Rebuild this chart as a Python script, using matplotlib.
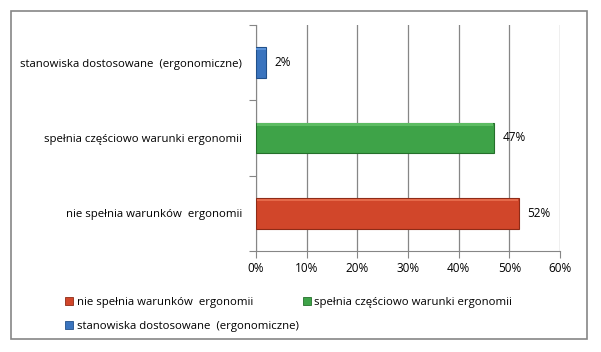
import matplotlib.pyplot as plt
from matplotlib.patches import Rectangle
from matplotlib.ticker import MultipleLocator, FuncFormatter

categories = ["nie spełnia warunków  ergonomii",
              "spełnia częściowo warunki ergonomii",
              "stanowiska dostosowane  (ergonomiczne)"]
values = [52, 47, 2]
colors = ["#D1462A", "#3EA348", "#3A74BE"]
edges = ["#8E2B17", "#25702B", "#21508A"]
highlights = ["#E5694A", "#5DBC63", "#5A92D8"]

plt.rcParams['font.family'] = ['Open Sans', 'DejaVu Sans']

fig = plt.figure(figsize=(6.01, 3.52), dpi=100)
W, H = 601, 352

# outer chart border
fig.patches.append(Rectangle((11 / W, 1 - 339 / H), 576 / W, 328 / H,
                             transform=fig.transFigure, fill=False,
                             edgecolor="#868686", linewidth=1.2))

ax = fig.add_axes([256 / W, 1 - 251 / H, 304 / W, 226 / H])
y = range(len(categories))
bars = ax.barh(y, values, height=0.41, color=colors, edgecolor=edges,
               linewidth=0.8, zorder=3)
# soft bevel highlight along the top edge
for b, hc in zip(bars, highlights):
    x0, y0 = b.get_x(), b.get_y()
    w, h = b.get_width(), b.get_height()
    ax.add_patch(Rectangle((x0 + w * 0.005, y0 + h * 0.9), w * 0.99, h * 0.08,
                           color=hc, linewidth=0, zorder=4))

for v, yi in zip(values, y):
    ax.text(v + 1.6, yi, f"{v}%", va="center", ha="left", fontsize=8.5,
            zorder=5)

ax.set_xlim(0, 60)
ax.set_ylim(-0.5, 2.5)
ax.xaxis.set_major_locator(MultipleLocator(10))
ax.xaxis.set_major_formatter(FuncFormatter(lambda v, p: f"{int(v)}%"))
ax.grid(axis="x", color="#868686", linewidth=0.9, zorder=0)
ax.set_yticks([-0.5, 0.5, 1.5, 2.5], minor=False)
ax.set_yticklabels([])
ax.set_yticks(list(y), minor=True)
ax.set_yticklabels(categories, minor=True)
ax.tick_params(axis="y", which="minor", length=0, labelsize=8.2, pad=10)
ax.tick_params(axis="y", which="major", length=5, color="#868686")
ax.tick_params(axis="x", length=5, color="#868686", labelsize=8.5, pad=3)
for s in ["top", "right"]:
    ax.spines[s].set_visible(False)
for s in ["left", "bottom"]:
    ax.spines[s].set_color("#868686")

handles = [Rectangle((0, 0), 1, 1, facecolor=c, edgecolor=e, linewidth=0.6)
           for c, e in zip(colors, edges)]
fig.legend(handles[:2], categories[:2], loc="upper left",
           bbox_to_anchor=(55 / W, 1 - 287 / H), ncol=2, frameon=False,
           fontsize=8.2, handlelength=0.7, handleheight=0.7, handletextpad=0.3,
           columnspacing=4.4)
fig.legend(handles[2:], categories[2:], loc="upper left",
           bbox_to_anchor=(55 / W, 1 - 311 / H), frameon=False,
           fontsize=8.2, handlelength=0.7, handleheight=0.7, handletextpad=0.3)

fig.savefig("out.png", dpi=100)
